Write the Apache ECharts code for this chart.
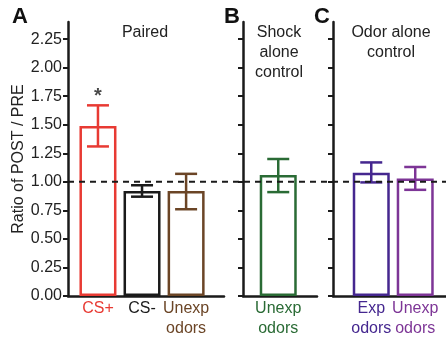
<!DOCTYPE html>
<html>
<head>
<meta charset="utf-8">
<script src="https://cdn.jsdelivr.net/npm/echarts@6/dist/echarts.min.js"></script>
<style>html,body{margin:0;padding:0;background:#fff;}#c{width:446px;height:338px;}</style>
</head>
<body>
<div id="c"></div>
<script>
// ---- data ----
const yTicks = [0, 0.25, 0.5, 0.75, 1.0, 1.25, 1.5, 1.75, 2.0, 2.25];
const yTickLabels = ['0.00','0.25','0.50','0.75','1.00','1.25','1.50','1.75','2.00','2.25'];

const catsA = ['CS+', 'CS-', 'Unexp\nodors'];
const meanA = [1.49, 0.92, 0.92];
const lowA  = [1.31, 0.87, 0.76];
const highA = [1.67, 0.97, 1.07];
const colorsA = ['#e83a33', '#1a1a1a', '#6b4526'];

const catsB = ['Unexp\nodors'];
const meanB = [1.06];
const lowB  = [0.91];
const highB = [1.20];
const colorsB = ['#2a6b35'];

const catsC = ['Exp\nodors', 'Unexp\nodors'];
const meanC = [1.08, 1.03];
const lowC  = [0.995, 0.93];
const highC = [1.17, 1.13];
const colorsC = ['#45278f', '#7d3596'];

const sigA = ['*', '', ''];
const sigYA = [1.75, 0, 0];
const refLine = 1.0;

const FONT = '"Liberation Sans", Arial, Helvetica, sans-serif';
const FS = 16;

function richFor(colors) {
  const r = {};
  colors.forEach((c, i) => { r['c' + i] = { color: c, fontSize: FS, fontFamily: FONT, lineHeight: 20 }; });
  return r;
}
function xAxisFor(grid, min, max, cats, colors) {
  return {
    type: 'value', gridIndex: grid, min: min, max: max,
    axisLine: { show: true, onZero: false, lineStyle: { color: '#1a1a1a', width: 2.5 } },
    axisTick: { show: false },
    splitLine: { show: false },
    axisLabel: {
      customValues: cats.map((c, i) => i + 1),
      margin: 3,
      formatter: function (v) {
        const i = Math.round(v) - 1;
        return cats[i].split('\n').map(s => '{c' + i + '|' + s + '}').join('\n');
      },
      rich: richFor(colors)
    }
  };
}
function yAxisFor(grid, showLabels) {
  const ax = {
    type: 'value', gridIndex: grid, min: 0, max: 2.4,
    axisLine: { show: true, lineStyle: { color: '#1a1a1a', width: 2.5 } },
    axisTick: { show: true, customValues: yTicks, length: 5, lineStyle: { color: '#1a1a1a', width: 2 } },
    splitLine: { show: false },
    axisLabel: {
      show: showLabels, customValues: yTicks, margin: 6,
      color: '#222', fontSize: FS, fontFamily: FONT,
      formatter: function (v) { const i = yTicks.findIndex(t => Math.abs(t - v) < 1e-6); return i >= 0 ? yTickLabels[i] : ''; }
    }
  };
  if (showLabels) {
    ax.name = 'Ratio of POST / PRE';
    ax.nameLocation = 'middle';
    ax.nameGap = 37;
    ax.nameTextStyle = { color: '#222', fontSize: FS, fontFamily: FONT };
  }
  return ax;
}
function barSeries(grid, means, colors) {
  return {
    type: 'bar', xAxisIndex: grid, yAxisIndex: grid, barWidth: 37,
    data: means.map((m, i) => ({ value: [i + 1, m], itemStyle: { color: 'rgba(255,255,255,0)', borderColor: colors[i], borderWidth: 2.5 } })),
    z: 2, silent: true
  };
}
function errSeries(grid, lows, highs, colors) {
  return {
    type: 'custom', xAxisIndex: grid, yAxisIndex: grid,
    data: lows.map((l, i) => [i + 1, l, highs[i], i]),
    encode: { x: 0, y: [1, 2] },
    z: 3, silent: true,
    renderItem: function (params, api) {
      const x = api.value(0);
      const lo = api.coord([x, api.value(1)]);
      const hi = api.coord([x, api.value(2)]);
      const c = colors[api.value(3)];
      const hw = 11;
      const st = { stroke: c, lineWidth: 2.5 };
      return {
        type: 'group', children: [
          { type: 'line', shape: { x1: lo[0], y1: lo[1], x2: hi[0], y2: hi[1] }, style: st },
          { type: 'line', shape: { x1: hi[0] - hw, y1: hi[1], x2: hi[0] + hw, y2: hi[1] }, style: st },
          { type: 'line', shape: { x1: lo[0] - hw, y1: lo[1], x2: lo[0] + hw, y2: lo[1] }, style: st }
        ]
      };
    }
  };
}

const chart = echarts.init(document.getElementById('c'), null, { renderer: 'canvas' });
const option = {
  animation: false,
  backgroundColor: '#fff',
  grid: [
    { left: 68, width: 156, top: 22, bottom: 42 },
    { left: 243, width: 74, top: 22, bottom: 42 },
    { left: 333, width: 113, top: 22, bottom: 42 },
    { left: 68, right: 0, top: 22, bottom: 42 }
  ],
  xAxis: [
    xAxisFor(0, 0.32, 3.86, catsA, colorsA),
    xAxisFor(1, 0.2, 1.88, catsB, colorsB),
    xAxisFor(2, 0.13, 2.70, catsC, colorsC),
    { type: 'value', gridIndex: 3, min: 0, max: 1, show: false }
  ],
  yAxis: [
    yAxisFor(0, true),
    yAxisFor(1, false),
    yAxisFor(2, false),
    { type: 'value', gridIndex: 3, min: 0, max: 2.4, show: false }
  ],
  series: [
    barSeries(0, meanA, colorsA), errSeries(0, lowA, highA, colorsA),
    barSeries(1, meanB, colorsB), errSeries(1, lowB, highB, colorsB),
    barSeries(2, meanC, colorsC), errSeries(2, lowC, highC, colorsC),
    {
      type: 'scatter', xAxisIndex: 0, yAxisIndex: 0, symbolSize: 0, silent: true,
      data: sigA.map((s, i) => [i + 1, sigYA[i], s]).filter(d => d[2]),
      label: { show: true, position: 'inside', formatter: p => p.data[2], color: '#1a1a1a', fontSize: 20, fontWeight: 'bold', fontFamily: FONT }
    },
    {
      type: 'line', xAxisIndex: 3, yAxisIndex: 3, symbol: 'none', silent: true, z: 10,
      data: [[0, refLine], [1, refLine]],
      lineStyle: { color: '#1a1a1a', width: 2, type: [6, 5] }
    }
  ],
  graphic: [
    { type: 'text', left: 12, top: 6, style: { text: 'A', fontSize: 22, fontWeight: 'bold', fontFamily: FONT, fill: '#111' } },
    { type: 'text', left: 224, top: 6, style: { text: 'B', fontSize: 22, fontWeight: 'bold', fontFamily: FONT, fill: '#111' } },
    { type: 'text', left: 314, top: 6, style: { text: 'C', fontSize: 22, fontWeight: 'bold', fontFamily: FONT, fill: '#111' } },
    { type: 'text', x: 145, y: 23, style: { text: 'Paired', fontSize: FS, lineHeight: 20, fontFamily: FONT, fill: '#222', align: 'center', verticalAlign: 'top' } },
    { type: 'text', x: 279, y: 23, style: { text: 'Shock\nalone\ncontrol', fontSize: FS, lineHeight: 20, fontFamily: FONT, fill: '#222', align: 'center', verticalAlign: 'top' } },
    { type: 'text', x: 391, y: 23, style: { text: 'Odor alone\ncontrol', fontSize: FS, lineHeight: 20, fontFamily: FONT, fill: '#222', align: 'center', verticalAlign: 'top' } }
  ]
};
chart.setOption(option);
</script>
</body>
</html>
